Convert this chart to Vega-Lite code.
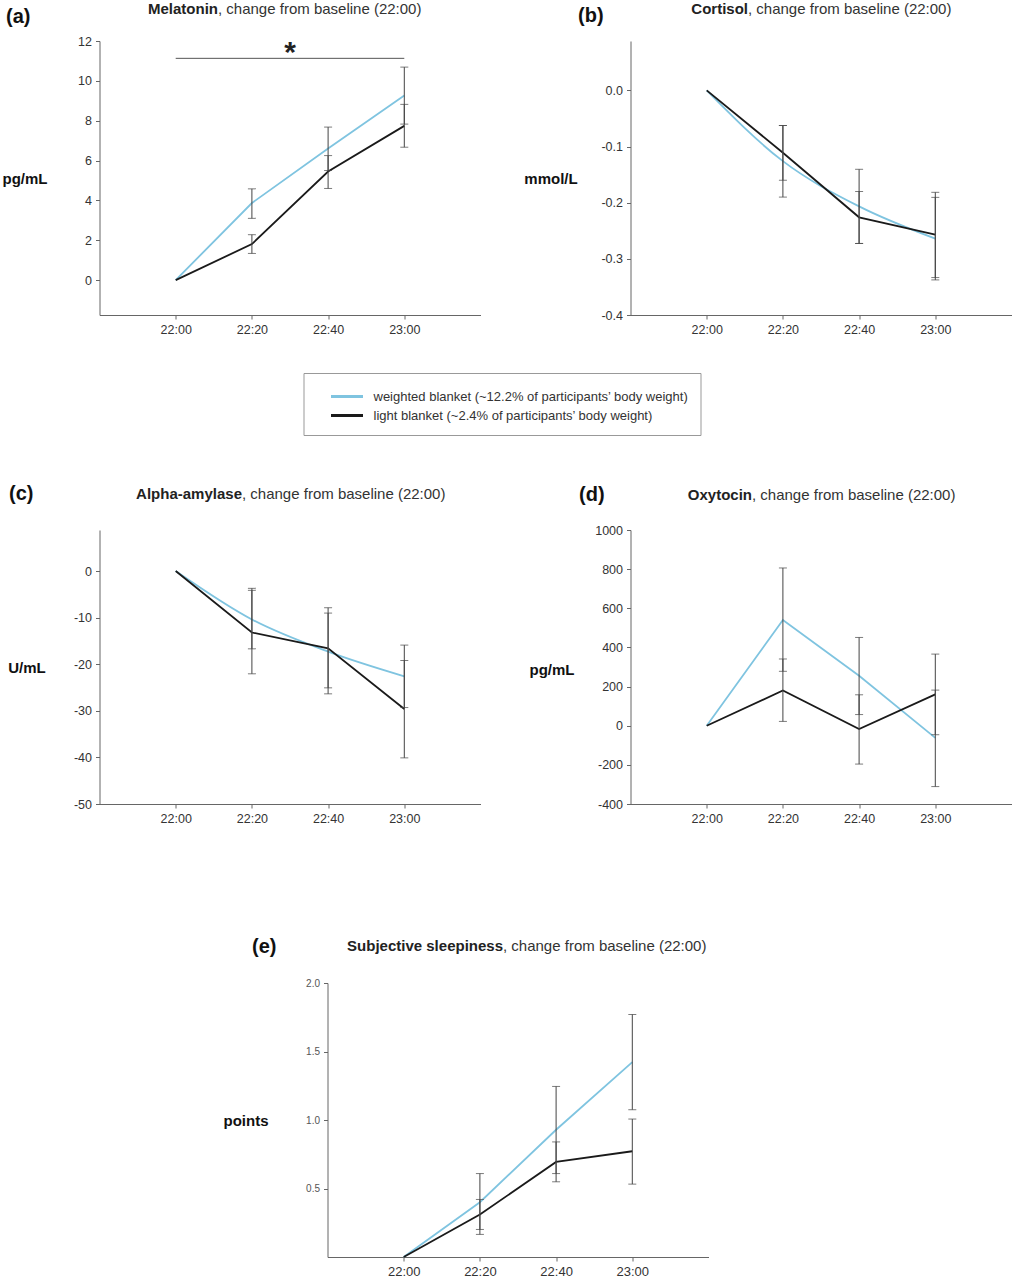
{
  "$schema": "https://vega.github.io/schema/vega-lite/v6.json",
  "padding": {"left": 1.5, "top": 1, "right": 5, "bottom": 5},
  "data": {"values": [
    {"panel":"a","time":"2020-01-01T22:00","blanket":"weighted blanket (~12.2% of participants’ body weight)","mean":0,"lo":null,"hi":null},
    {"panel":"a","time":"2020-01-01T22:20","blanket":"weighted blanket (~12.2% of participants’ body weight)","mean":3.87,"lo":3.1,"hi":4.58},
    {"panel":"a","time":"2020-01-01T22:40","blanket":"weighted blanket (~12.2% of participants’ body weight)","mean":6.6,"lo":5.5,"hi":7.68},
    {"panel":"a","time":"2020-01-01T23:00","blanket":"weighted blanket (~12.2% of participants’ body weight)","mean":9.26,"lo":7.83,"hi":10.69},
    {"panel":"a","time":"2020-01-01T22:00","blanket":"light blanket (~2.4% of participants’ body weight)","mean":0,"lo":null,"hi":null},
    {"panel":"a","time":"2020-01-01T22:20","blanket":"light blanket (~2.4% of participants’ body weight)","mean":1.81,"lo":1.34,"hi":2.28},
    {"panel":"a","time":"2020-01-01T22:40","blanket":"light blanket (~2.4% of participants’ body weight)","mean":5.45,"lo":4.6,"hi":6.25},
    {"panel":"a","time":"2020-01-01T23:00","blanket":"light blanket (~2.4% of participants’ body weight)","mean":7.74,"lo":6.67,"hi":8.82},
    {"panel":"b","time":"2020-01-01T22:00","blanket":"weighted blanket (~12.2% of participants’ body weight)","mean":0,"lo":null,"hi":null},
    {"panel":"b","time":"2020-01-01T22:20","blanket":"weighted blanket (~12.2% of participants’ body weight)","mean":-0.126,"lo":-0.19,"hi":-0.0625},
    {"panel":"b","time":"2020-01-01T22:40","blanket":"weighted blanket (~12.2% of participants’ body weight)","mean":-0.2065,"lo":-0.2726,"hi":-0.1405},
    {"panel":"b","time":"2020-01-01T23:00","blanket":"weighted blanket (~12.2% of participants’ body weight)","mean":-0.264,"lo":-0.3375,"hi":-0.1905},
    {"panel":"b","time":"2020-01-01T22:00","blanket":"light blanket (~2.4% of participants’ body weight)","mean":0,"lo":null,"hi":null},
    {"panel":"b","time":"2020-01-01T22:20","blanket":"light blanket (~2.4% of participants’ body weight)","mean":-0.111,"lo":-0.16,"hi":-0.0625},
    {"panel":"b","time":"2020-01-01T22:40","blanket":"light blanket (~2.4% of participants’ body weight)","mean":-0.226,"lo":-0.2726,"hi":-0.18},
    {"panel":"b","time":"2020-01-01T23:00","blanket":"light blanket (~2.4% of participants’ body weight)","mean":-0.257,"lo":-0.3333,"hi":-0.1815},
    {"panel":"c","time":"2020-01-01T22:00","blanket":"weighted blanket (~12.2% of participants’ body weight)","mean":0,"lo":null,"hi":null},
    {"panel":"c","time":"2020-01-01T22:20","blanket":"weighted blanket (~12.2% of participants’ body weight)","mean":-10.4,"lo":-16.7,"hi":-4.15},
    {"panel":"c","time":"2020-01-01T22:40","blanket":"weighted blanket (~12.2% of participants’ body weight)","mean":-17.3,"lo":-25.07,"hi":-9.03},
    {"panel":"c","time":"2020-01-01T23:00","blanket":"weighted blanket (~12.2% of participants’ body weight)","mean":-22.6,"lo":-29.3,"hi":-15.9},
    {"panel":"c","time":"2020-01-01T22:00","blanket":"light blanket (~2.4% of participants’ body weight)","mean":0,"lo":null,"hi":null},
    {"panel":"c","time":"2020-01-01T22:20","blanket":"light blanket (~2.4% of participants’ body weight)","mean":-13.2,"lo":-22.06,"hi":-3.72},
    {"panel":"c","time":"2020-01-01T22:40","blanket":"light blanket (~2.4% of participants’ body weight)","mean":-16.6,"lo":-26.36,"hi":-7.88},
    {"panel":"c","time":"2020-01-01T23:00","blanket":"light blanket (~2.4% of participants’ body weight)","mean":-29.6,"lo":-40.1,"hi":-19.2},
    {"panel":"d","time":"2020-01-01T22:00","blanket":"weighted blanket (~12.2% of participants’ body weight)","mean":0,"lo":null,"hi":null},
    {"panel":"d","time":"2020-01-01T22:20","blanket":"weighted blanket (~12.2% of participants’ body weight)","mean":540,"lo":278,"hi":806},
    {"panel":"d","time":"2020-01-01T22:40","blanket":"weighted blanket (~12.2% of participants’ body weight)","mean":255,"lo":57,"hi":451},
    {"panel":"d","time":"2020-01-01T23:00","blanket":"weighted blanket (~12.2% of participants’ body weight)","mean":-62,"lo":-311,"hi":182},
    {"panel":"d","time":"2020-01-01T22:00","blanket":"light blanket (~2.4% of participants’ body weight)","mean":0,"lo":null,"hi":null},
    {"panel":"d","time":"2020-01-01T22:20","blanket":"light blanket (~2.4% of participants’ body weight)","mean":180,"lo":22,"hi":341},
    {"panel":"d","time":"2020-01-01T22:40","blanket":"light blanket (~2.4% of participants’ body weight)","mean":-17,"lo":-196,"hi":158},
    {"panel":"d","time":"2020-01-01T23:00","blanket":"light blanket (~2.4% of participants’ body weight)","mean":160,"lo":-46,"hi":366},
    {"panel":"e","time":"2020-01-01T22:00","blanket":"weighted blanket (~12.2% of participants’ body weight)","mean":0,"lo":null,"hi":null},
    {"panel":"e","time":"2020-01-01T22:20","blanket":"weighted blanket (~12.2% of participants’ body weight)","mean":0.4,"lo":0.201,"hi":0.609},
    {"panel":"e","time":"2020-01-01T22:40","blanket":"weighted blanket (~12.2% of participants’ body weight)","mean":0.929,"lo":0.609,"hi":1.245},
    {"panel":"e","time":"2020-01-01T23:00","blanket":"weighted blanket (~12.2% of participants’ body weight)","mean":1.422,"lo":1.075,"hi":1.77},
    {"panel":"e","time":"2020-01-01T22:00","blanket":"light blanket (~2.4% of participants’ body weight)","mean":0,"lo":null,"hi":null},
    {"panel":"e","time":"2020-01-01T22:20","blanket":"light blanket (~2.4% of participants’ body weight)","mean":0.31,"lo":0.165,"hi":0.42},
    {"panel":"e","time":"2020-01-01T22:40","blanket":"light blanket (~2.4% of participants’ body weight)","mean":0.694,"lo":0.549,"hi":0.84},
    {"panel":"e","time":"2020-01-01T23:00","blanket":"light blanket (~2.4% of participants’ body weight)","mean":0.772,"lo":0.532,"hi":1.007}
  ]},
  "spacing": 147,
  "vconcat": [
    {
      "spacing": 43,
      "hconcat": [
        {
          "width": 381, "height": 274,
          "layer": [
            {
              "layer": [
                {
                  "transform": [{"filter": "datum.panel == 'a'"}],
                  "mark": {"type": "line", "strokeWidth": 1.8},
                  "encoding": {
                    "x": {"field": "time", "type": "temporal",
                      "scale": {"domain": [{"year":2020,"month":1,"date":1,"hours":21,"minutes":40},{"year":2020,"month":1,"date":1,"hours":23,"minutes":20}], "nice": false, "padding": 0},
                      "axis": {"orient": "bottom", "values": [{"year":2020,"month":1,"date":1,"hours":22,"minutes":0},{"year":2020,"month":1,"date":1,"hours":22,"minutes":20},{"year":2020,"month":1,"date":1,"hours":22,"minutes":40},{"year":2020,"month":1,"date":1,"hours":23,"minutes":0}], "format": "%H:%M", "labelFlush": false,
                        "title": "(a)", "titleX": -94, "titleY": -299, "titleAlign": "left", "titleBaseline": "middle", "titleFontSize": 20, "titleFontWeight": "bold", "titleColor": "#111"}},
                    "y": {"field": "mean", "type": "quantitative",
                      "scale": {"domain": [-1.75, 12], "nice": false, "zero": false},
                      "axis": {"values": [0,2,4,6,8,10,12], "tickCount": 10, "format": "d", "title": "pg/mL", "titleAngle": 0, "titleX": -75, "titleY": 137, "titleAlign": "center", "titleBaseline": "middle", "titleFontSize": 15, "titleFontWeight": "bold", "titleColor": "#111"}},
                    "color": {"field": "blanket", "type": "nominal",
                      "scale": {"domain": ["weighted blanket (~12.2% of participants’ body weight)", "light blanket (~2.4% of participants’ body weight)"], "range": ["#7FC4E0", "#1a1a1a"]},
                      "legend": {"title": null}}
                  }
                },
                {
                  "transform": [{"filter": "datum.panel == 'a' && isValid(datum.lo)"}],
                  "mark": {"type": "tick", "orient": "horizontal", "size": 8, "thickness": 1, "color": "#444"},
                  "encoding": {
                    "x": {"field": "time", "type": "temporal"},
                    "y": {"field": "lo", "type": "quantitative"}
                  }
                },
                {
                  "transform": [{"filter": "datum.panel == 'a' && isValid(datum.hi)"}],
                  "mark": {"type": "tick", "orient": "horizontal", "size": 8, "thickness": 1, "color": "#444"},
                  "encoding": {
                    "x": {"field": "time", "type": "temporal"},
                    "y": {"field": "hi", "type": "quantitative"}
                  }
                },
                {
                  "data": {"values": [{"start": "2020-01-01T22:00", "end": "2020-01-01T23:00", "mid": "2020-01-01T22:30", "level": 11.13, "sig": "*"}]},
                  "layer": [
                    {
                      "mark": {"type": "rule", "color": "#555", "strokeWidth": 1},
                      "encoding": {
                        "x": {"field": "start", "type": "temporal"},
                        "x2": {"field": "end"},
                        "y": {"field": "level", "type": "quantitative"}
                      }
                    },
                    {
                      "mark": {"type": "text", "fontSize": 30, "fontWeight": "bold", "baseline": "alphabetic", "dy": 4, "color": "#222"},
                      "encoding": {
                        "x": {"field": "mid", "type": "temporal"},
                        "y": {"field": "level", "type": "quantitative"},
                        "text": {"field": "sig"}
                      }
                    }
                  ]
                }
              ]
            },
            {
              "transform": [{"filter": "datum.panel == 'a' && isValid(datum.lo)"}],
              "mark": {"type": "rule", "color": "#444", "strokeWidth": 1},
              "encoding": {
                "x": {"field": "time", "type": "temporal",
                  "scale": {"domain": [{"year":2020,"month":1,"date":1,"hours":21,"minutes":40},{"year":2020,"month":1,"date":1,"hours":23,"minutes":20}], "nice": false, "padding": 0},
                  "axis": {"orient": "top", "domain": false, "ticks": false, "labels": false, "grid": false, "title": "Melatonin", "titleX": 118, "titleY": -33, "titleAlign": "right", "titleBaseline": "middle", "titleFontSize": 15, "titleFontWeight": "bold", "titleColor": "#222"}},
                "y": {"field": "lo", "type": "quantitative",
                  "scale": {"domain": [-1.75, 12], "nice": false, "zero": false},
                  "axis": {"orient": "right", "domain": false, "ticks": false, "labels": false, "grid": false, "title": ", change from baseline (22:00)", "titleAngle": 0, "titleX": -263, "titleY": -33, "titleAlign": "left", "titleBaseline": "middle", "titleFontSize": 15, "titleFontWeight": "normal", "titleColor": "#333"}},
                "y2": {"field": "hi"}
              }
            }
          ],
          "resolve": {"scale": {"x": "independent", "y": "independent"}}
        },
        {
          "width": 381, "height": 274,
          "layer": [
            {
              "layer": [
                {
                  "transform": [{"filter": "datum.panel == 'b' && indexof(datum.blanket, 'weighted') == 0"}],
                  "mark": {"type": "line", "strokeWidth": 1.8, "interpolate": "monotone"},
                  "encoding": {
                    "x": {"field": "time", "type": "temporal",
                      "scale": {"domain": [{"year":2020,"month":1,"date":1,"hours":21,"minutes":40},{"year":2020,"month":1,"date":1,"hours":23,"minutes":20}], "nice": false, "padding": 0},
                      "axis": {"orient": "bottom", "values": [{"year":2020,"month":1,"date":1,"hours":22,"minutes":0},{"year":2020,"month":1,"date":1,"hours":22,"minutes":20},{"year":2020,"month":1,"date":1,"hours":22,"minutes":40},{"year":2020,"month":1,"date":1,"hours":23,"minutes":0}], "format": "%H:%M", "labelFlush": false,
                        "title": "(b)", "titleX": -53, "titleY": -300, "titleAlign": "left", "titleBaseline": "middle", "titleFontSize": 20, "titleFontWeight": "bold", "titleColor": "#111"}},
                    "y": {"field": "mean", "type": "quantitative",
                      "scale": {"domain": [-0.4, 0.088], "nice": false, "zero": false},
                      "axis": {"values": [0,-0.1,-0.2,-0.3,-0.4], "tickCount": 10, "format": ".1f", "labelExpr": "replace(datum.label, '−', '-')", "title": "mmol/L", "titleAngle": 0, "titleX": -80, "titleY": 137, "titleAlign": "center", "titleBaseline": "middle", "titleFontSize": 15, "titleFontWeight": "bold", "titleColor": "#111"}},
                    "color": {"field": "blanket", "type": "nominal",
                      "scale": {"domain": ["weighted blanket (~12.2% of participants’ body weight)", "light blanket (~2.4% of participants’ body weight)"], "range": ["#7FC4E0", "#1a1a1a"]},
                      "legend": {"title": null}}
                  }
                },
                {
                  "transform": [{"filter": "datum.panel == 'b' && indexof(datum.blanket, 'light') == 0"}],
                  "mark": {"type": "line", "strokeWidth": 1.8},
                  "encoding": {
                    "x": {"field": "time", "type": "temporal"},
                    "y": {"field": "mean", "type": "quantitative"},
                    "color": {"field": "blanket", "type": "nominal"}
                  }
                },
                {
                  "transform": [{"filter": "datum.panel == 'b' && isValid(datum.lo)"}],
                  "mark": {"type": "tick", "orient": "horizontal", "size": 8, "thickness": 1, "color": "#444"},
                  "encoding": {
                    "x": {"field": "time", "type": "temporal"},
                    "y": {"field": "lo", "type": "quantitative"}
                  }
                },
                {
                  "transform": [{"filter": "datum.panel == 'b' && isValid(datum.hi)"}],
                  "mark": {"type": "tick", "orient": "horizontal", "size": 8, "thickness": 1, "color": "#444"},
                  "encoding": {
                    "x": {"field": "time", "type": "temporal"},
                    "y": {"field": "hi", "type": "quantitative"}
                  }
                }
              ]
            },
            {
              "transform": [{"filter": "datum.panel == 'b' && isValid(datum.lo)"}],
              "mark": {"type": "rule", "color": "#444", "strokeWidth": 1},
              "encoding": {
                "x": {"field": "time", "type": "temporal",
                  "scale": {"domain": [{"year":2020,"month":1,"date":1,"hours":21,"minutes":40},{"year":2020,"month":1,"date":1,"hours":23,"minutes":20}], "nice": false, "padding": 0},
                  "axis": {"orient": "top", "domain": false, "ticks": false, "labels": false, "grid": false, "title": "Cortisol", "titleX": 117, "titleY": -33, "titleAlign": "right", "titleBaseline": "middle", "titleFontSize": 15, "titleFontWeight": "bold", "titleColor": "#222"}},
                "y": {"field": "lo", "type": "quantitative",
                  "scale": {"domain": [-0.4, 0.088], "nice": false, "zero": false},
                  "axis": {"orient": "right", "domain": false, "ticks": false, "labels": false, "grid": false, "title": ", change from baseline (22:00)", "titleAngle": 0, "titleX": -264, "titleY": -33, "titleAlign": "left", "titleBaseline": "middle", "titleFontSize": 15, "titleFontWeight": "normal", "titleColor": "#333"}},
                "y2": {"field": "hi"}
              }
            }
          ],
          "resolve": {"scale": {"x": "independent", "y": "independent"}}
        }
      ]
    },
    {
      "spacing": 111,
      "vconcat": [
        {
          "spacing": 48,
          "hconcat": [
            {
              "width": 381, "height": 274,
              "layer": [
                {
                  "layer": [
                    {
                      "transform": [{"filter": "datum.panel == 'c' && indexof(datum.blanket, 'weighted') == 0"}],
                      "mark": {"type": "line", "strokeWidth": 1.8, "interpolate": "monotone"},
                      "encoding": {
                        "x": {"field": "time", "type": "temporal",
                          "scale": {"domain": [{"year":2020,"month":1,"date":1,"hours":21,"minutes":40},{"year":2020,"month":1,"date":1,"hours":23,"minutes":20}], "nice": false, "padding": 0},
                          "axis": {"orient": "bottom", "values": [{"year":2020,"month":1,"date":1,"hours":22,"minutes":0},{"year":2020,"month":1,"date":1,"hours":22,"minutes":20},{"year":2020,"month":1,"date":1,"hours":22,"minutes":40},{"year":2020,"month":1,"date":1,"hours":23,"minutes":0}], "format": "%H:%M", "labelFlush": false,
                            "title": "(c)", "titleX": -91, "titleY": -311, "titleAlign": "left", "titleBaseline": "middle", "titleFontSize": 20, "titleFontWeight": "bold", "titleColor": "#111"}},
                        "y": {"field": "mean", "type": "quantitative",
                          "scale": {"domain": [-50, 8.8], "nice": false, "zero": false},
                          "axis": {"values": [0,-10,-20,-30,-40,-50], "tickCount": 10, "format": "d", "labelExpr": "replace(datum.label, '−', '-')", "title": "U/mL", "titleAngle": 0, "titleX": -73, "titleY": 137, "titleAlign": "center", "titleBaseline": "middle", "titleFontSize": 15, "titleFontWeight": "bold", "titleColor": "#111"}},
                        "color": {"field": "blanket", "type": "nominal",
                          "scale": {"domain": ["weighted blanket (~12.2% of participants’ body weight)", "light blanket (~2.4% of participants’ body weight)"], "range": ["#7FC4E0", "#1a1a1a"]},
                          "legend": {"title": null}}
                      }
                    },
                    {
                      "transform": [{"filter": "datum.panel == 'c' && indexof(datum.blanket, 'light') == 0"}],
                      "mark": {"type": "line", "strokeWidth": 1.8},
                      "encoding": {
                        "x": {"field": "time", "type": "temporal"},
                        "y": {"field": "mean", "type": "quantitative"},
                        "color": {"field": "blanket", "type": "nominal"}
                      }
                    },
                    {
                      "transform": [{"filter": "datum.panel == 'c' && isValid(datum.lo)"}],
                      "mark": {"type": "tick", "orient": "horizontal", "size": 8, "thickness": 1, "color": "#444"},
                      "encoding": {
                        "x": {"field": "time", "type": "temporal"},
                        "y": {"field": "lo", "type": "quantitative"}
                      }
                    },
                    {
                      "transform": [{"filter": "datum.panel == 'c' && isValid(datum.hi)"}],
                      "mark": {"type": "tick", "orient": "horizontal", "size": 8, "thickness": 1, "color": "#444"},
                      "encoding": {
                        "x": {"field": "time", "type": "temporal"},
                        "y": {"field": "hi", "type": "quantitative"}
                      }
                    }
                  ]
                },
                {
                  "transform": [{"filter": "datum.panel == 'c' && isValid(datum.lo)"}],
                  "mark": {"type": "rule", "color": "#444", "strokeWidth": 1},
                  "encoding": {
                    "x": {"field": "time", "type": "temporal",
                      "scale": {"domain": [{"year":2020,"month":1,"date":1,"hours":21,"minutes":40},{"year":2020,"month":1,"date":1,"hours":23,"minutes":20}], "nice": false, "padding": 0},
                      "axis": {"orient": "top", "domain": false, "ticks": false, "labels": false, "grid": false, "title": "Alpha-amylase", "titleX": 142, "titleY": -37, "titleAlign": "right", "titleBaseline": "middle", "titleFontSize": 15, "titleFontWeight": "bold", "titleColor": "#222"}},
                    "y": {"field": "lo", "type": "quantitative",
                      "scale": {"domain": [-50, 8.8], "nice": false, "zero": false},
                      "axis": {"orient": "right", "domain": false, "ticks": false, "labels": false, "grid": false, "title": ", change from baseline (22:00)", "titleAngle": 0, "titleX": -239, "titleY": -37, "titleAlign": "left", "titleBaseline": "middle", "titleFontSize": 15, "titleFontWeight": "normal", "titleColor": "#333"}},
                    "y2": {"field": "hi"}
                  }
                }
              ],
              "resolve": {"scale": {"x": "independent", "y": "independent"}}
            },
            {
              "width": 381, "height": 274,
              "layer": [
                {
                  "layer": [
                    {
                      "transform": [{"filter": "datum.panel == 'd'"}],
                      "mark": {"type": "line", "strokeWidth": 1.8},
                      "encoding": {
                        "x": {"field": "time", "type": "temporal",
                          "scale": {"domain": [{"year":2020,"month":1,"date":1,"hours":21,"minutes":40},{"year":2020,"month":1,"date":1,"hours":23,"minutes":20}], "nice": false, "padding": 0},
                          "axis": {"orient": "bottom", "values": [{"year":2020,"month":1,"date":1,"hours":22,"minutes":0},{"year":2020,"month":1,"date":1,"hours":22,"minutes":20},{"year":2020,"month":1,"date":1,"hours":22,"minutes":40},{"year":2020,"month":1,"date":1,"hours":23,"minutes":0}], "format": "%H:%M", "labelFlush": false,
                            "title": "(d)", "titleX": -52, "titleY": -310, "titleAlign": "left", "titleBaseline": "middle", "titleFontSize": 20, "titleFontWeight": "bold", "titleColor": "#111"}},
                        "y": {"field": "mean", "type": "quantitative",
                          "scale": {"domain": [-400, 1000], "nice": false, "zero": false},
                          "axis": {"values": [-400,-200,0,200,400,600,800,1000], "tickCount": 20, "format": "d", "labelOverlap": false, "labelExpr": "replace(datum.label, '−', '-')", "title": "pg/mL", "titleAngle": 0, "titleX": -79, "titleY": 139, "titleAlign": "center", "titleBaseline": "middle", "titleFontSize": 15, "titleFontWeight": "bold", "titleColor": "#111"}},
                        "color": {"field": "blanket", "type": "nominal",
                          "scale": {"domain": ["weighted blanket (~12.2% of participants’ body weight)", "light blanket (~2.4% of participants’ body weight)"], "range": ["#7FC4E0", "#1a1a1a"]},
                          "legend": {"title": null}}
                      }
                    },
                    {
                      "transform": [{"filter": "datum.panel == 'd' && isValid(datum.lo)"}],
                      "mark": {"type": "tick", "orient": "horizontal", "size": 8, "thickness": 1, "color": "#444"},
                      "encoding": {
                        "x": {"field": "time", "type": "temporal"},
                        "y": {"field": "lo", "type": "quantitative"}
                      }
                    },
                    {
                      "transform": [{"filter": "datum.panel == 'd' && isValid(datum.hi)"}],
                      "mark": {"type": "tick", "orient": "horizontal", "size": 8, "thickness": 1, "color": "#444"},
                      "encoding": {
                        "x": {"field": "time", "type": "temporal"},
                        "y": {"field": "hi", "type": "quantitative"}
                      }
                    }
                  ]
                },
                {
                  "transform": [{"filter": "datum.panel == 'd' && isValid(datum.lo)"}],
                  "mark": {"type": "rule", "color": "#444", "strokeWidth": 1},
                  "encoding": {
                    "x": {"field": "time", "type": "temporal",
                      "scale": {"domain": [{"year":2020,"month":1,"date":1,"hours":21,"minutes":40},{"year":2020,"month":1,"date":1,"hours":23,"minutes":20}], "nice": false, "padding": 0},
                      "axis": {"orient": "top", "domain": false, "ticks": false, "labels": false, "grid": false, "title": "Oxytocin", "titleX": 121, "titleY": -36, "titleAlign": "right", "titleBaseline": "middle", "titleFontSize": 15, "titleFontWeight": "bold", "titleColor": "#222"}},
                    "y": {"field": "lo", "type": "quantitative",
                      "scale": {"domain": [-400, 1000], "nice": false, "zero": false},
                      "axis": {"orient": "right", "domain": false, "ticks": false, "labels": false, "grid": false, "title": ", change from baseline (22:00)", "titleAngle": 0, "titleX": -260, "titleY": -36, "titleAlign": "left", "titleBaseline": "middle", "titleFontSize": 15, "titleFontWeight": "normal", "titleColor": "#333"}},
                    "y2": {"field": "hi"}
                  }
                }
              ],
              "resolve": {"scale": {"x": "independent", "y": "independent"}}
            }
          ]
        },
        {
          "spacing": 20,
          "hconcat": [
            {
              "width": 102.5, "height": 1,
              "data": {"values": []},
              "mark": "point"
            },
            {
              "width": 381, "height": 274,
              "layer": [
                {
                  "layer": [
                    {
                      "transform": [{"filter": "datum.panel == 'e'"}],
                      "mark": {"type": "line", "strokeWidth": 1.8},
                      "encoding": {
                        "x": {"field": "time", "type": "temporal",
                          "scale": {"domain": [{"year":2020,"month":1,"date":1,"hours":21,"minutes":40},{"year":2020,"month":1,"date":1,"hours":23,"minutes":20}], "nice": false, "padding": 0},
                          "axis": {"orient": "bottom", "values": [{"year":2020,"month":1,"date":1,"hours":22,"minutes":0},{"year":2020,"month":1,"date":1,"hours":22,"minutes":20},{"year":2020,"month":1,"date":1,"hours":22,"minutes":40},{"year":2020,"month":1,"date":1,"hours":23,"minutes":0}], "format": "%H:%M", "labelFlush": false, "labelFontSize": 13,
                            "title": "(e)", "titleX": -76, "titleY": -311, "titleAlign": "left", "titleBaseline": "middle", "titleFontSize": 20, "titleFontWeight": "bold", "titleColor": "#111"}},
                        "y": {"field": "mean", "type": "quantitative",
                          "scale": {"domain": [0, 2], "nice": false, "zero": false},
                          "axis": {"values": [0.5,1,1.5,2], "tickCount": 10, "format": ".1f", "labelFontSize": 10, "labelColor": "#555", "title": "points", "titleAngle": 0, "titleX": -82, "titleY": 137, "titleAlign": "center", "titleBaseline": "middle", "titleFontSize": 15, "titleFontWeight": "bold", "titleColor": "#111"}},
                        "color": {"field": "blanket", "type": "nominal",
                          "scale": {"domain": ["weighted blanket (~12.2% of participants’ body weight)", "light blanket (~2.4% of participants’ body weight)"], "range": ["#7FC4E0", "#1a1a1a"]},
                          "legend": {"title": null}}
                      }
                    },
                    {
                      "transform": [{"filter": "datum.panel == 'e' && isValid(datum.lo)"}],
                      "mark": {"type": "tick", "orient": "horizontal", "size": 8, "thickness": 1, "color": "#444"},
                      "encoding": {
                        "x": {"field": "time", "type": "temporal"},
                        "y": {"field": "lo", "type": "quantitative"}
                      }
                    },
                    {
                      "transform": [{"filter": "datum.panel == 'e' && isValid(datum.hi)"}],
                      "mark": {"type": "tick", "orient": "horizontal", "size": 8, "thickness": 1, "color": "#444"},
                      "encoding": {
                        "x": {"field": "time", "type": "temporal"},
                        "y": {"field": "hi", "type": "quantitative"}
                      }
                    }
                  ]
                },
                {
                  "transform": [{"filter": "datum.panel == 'e' && isValid(datum.lo)"}],
                  "mark": {"type": "rule", "color": "#444", "strokeWidth": 1},
                  "encoding": {
                    "x": {"field": "time", "type": "temporal",
                      "scale": {"domain": [{"year":2020,"month":1,"date":1,"hours":21,"minutes":40},{"year":2020,"month":1,"date":1,"hours":23,"minutes":20}], "nice": false, "padding": 0},
                      "axis": {"orient": "top", "domain": false, "ticks": false, "labels": false, "grid": false, "title": "Subjective sleepiness", "titleX": 175, "titleY": -38, "titleAlign": "right", "titleBaseline": "middle", "titleFontSize": 15, "titleFontWeight": "bold", "titleColor": "#222"}},
                    "y": {"field": "lo", "type": "quantitative",
                      "scale": {"domain": [0, 2], "nice": false, "zero": false},
                      "axis": {"orient": "right", "domain": false, "ticks": false, "labels": false, "grid": false, "title": ", change from baseline (22:00)", "titleAngle": 0, "titleX": -206, "titleY": -38, "titleAlign": "left", "titleBaseline": "middle", "titleFontSize": 15, "titleFontWeight": "normal", "titleColor": "#333"}},
                    "y2": {"field": "hi"}
                  }
                }
              ],
              "resolve": {"scale": {"x": "independent", "y": "independent"}}
            }
          ]
        }
      ]
    }
  ],
  "config": {
    "font": "Liberation Sans",
    "view": {"stroke": null},
    "axis": {"domainColor": "#666", "tickColor": "#666", "tickSize": 4, "labelColor": "#333", "labelFontSize": 12.5, "labelFont": "Liberation Sans", "titleFont": "Liberation Sans", "grid": false, "labelPadding": 4, "domainWidth": 1, "tickWidth": 1, "labelOverlap": false},
    "legend": {"orient": "none", "legendX": 204, "legendY": 332, "direction": "vertical", "strokeColor": "#999", "fillColor": "#fff", "padding": 12, "symbolType": "M-1.6,0H1.6", "symbolSize": 400, "symbolStrokeWidth": 3, "symbolOffset": 20, "labelOffset": 15, "labelFont": "Liberation Sans", "labelFontSize": 13, "labelColor": "#333", "labelLimit": 600, "rowPadding": 0}
  }
}
